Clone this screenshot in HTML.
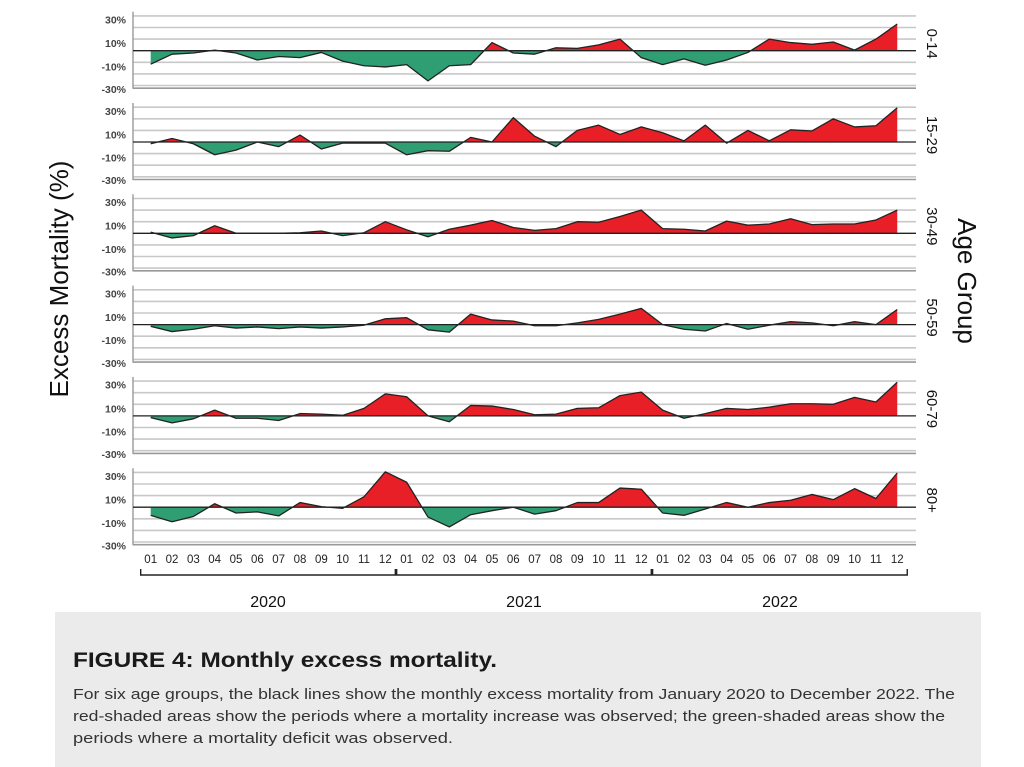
<!DOCTYPE html>
<html><head><meta charset="utf-8"><style>
html,body{margin:0;padding:0;background:#fff;}
svg{display:block;font-family:"Liberation Sans",sans-serif;}
</style></head><body>
<svg id="chart" width="1024" height="767" viewBox="0 0 1024 767" xmlns="http://www.w3.org/2000/svg">
<defs></defs>
<rect x="55" y="612" width="926" height="155" fill="#ebebeb"/>
<text x="73" y="667" font-size="21" font-weight="bold" fill="#1a1a1a" textLength="424" lengthAdjust="spacingAndGlyphs">FIGURE 4: Monthly excess mortality.</text>
<text x="73" y="699" font-size="14.5" fill="#333" textLength="882" lengthAdjust="spacingAndGlyphs">For six age groups, the black lines show the monthly excess mortality from January 2020 to December 2022. The</text>
<text x="73" y="721" font-size="14.5" fill="#333" textLength="872" lengthAdjust="spacingAndGlyphs">red-shaded areas show the periods where a mortality increase was observed; the green-shaded areas show the</text>
<text x="73" y="743" font-size="14.5" fill="#333" textLength="380" lengthAdjust="spacingAndGlyphs">periods where a mortality deficit was observed.</text>
<text transform="translate(68,279) rotate(-90)" text-anchor="middle" font-size="26" fill="#111">Excess Mortality (%)</text>
<text transform="translate(958,281) rotate(90)" text-anchor="middle" font-size="26" fill="#111">Age Group</text>
</svg>
<script>
const groups = ["0-14","15-29","30-49","50-59","60-79","80+"];
const months = ["01","02","03","04","05","06","07","08","09","10","11","12"];
const years = ["2020","2021","2022"];
const yTicks = ["30%","10%","-10%","-30%"];
const s0_14 = [-11.6,-3,-2,0.5,-2,-8,-5,-6,-1.5,-9,-13,-14,-12,-26,-13,-12,7,-2,-3,2.5,2,5,10,-6,-12,-7,-12.5,-8,-1.5,10,7,5.5,7.5,0.5,10,23];
const s15_29 = [-1.5,3,-1.5,-11,-7,0,-4,6,-6,-1,-1,-1,-11,-7.5,-8,4,0,21,5,-4,10,14.5,6.5,13,8,1,14.5,-1,10,1,10.5,9.5,20,13,14,29.5];
const s30_49 = [1,-4,-2,6.5,0,0,0,0.5,2,-2,0.5,10,3,-3,3.5,7,11,5,2.5,4,10,9.5,14.5,20,4,3.5,2,10.5,7,8,12.5,7.5,8,8,11.5,20];
const s50_59 = [-1.5,-6,-4,-1,-3,-2,-3.5,-2,-3,-2,-0.5,5,6,-4.5,-6.5,9,4,3,-1,-1,1.5,4.5,9,14,0,-4,-5.5,1,-4,-0.5,2.5,1.5,-1,2.5,0,13];
const s60_79 = [-1.5,-6,-2.5,5,-2,-2,-4,2,1.5,0.5,6.5,19,16.5,0,-5,9,8.5,5.5,1,1.5,6.5,7,17.5,20.5,5,-2,2,6.5,5.5,7.5,10.5,10.5,10,16,12,29];
const s80 = [-7,-12.5,-8,3,-5,-4,-7.5,4,0.5,-1,9,30.5,21.5,-8.5,-17,-6.5,-3,0,-6,-3,4,4,16.5,15.5,-5,-7,-1.5,4,0,4,6,11,6.5,16,7.5,29.5];
const series = [s0_14,s15_29,s30_49,s50_59,s60_79,s80];

const NS="http://www.w3.org/2000/svg";
const svg=document.getElementById('chart');
const defs=svg.querySelector('defs');
const X0=150.7, DX=21.33, ZERO0=50.7, PANEL=91.3, PX=1.16;
function xPos(i){return X0+DX*i;}
function yPos(p,v){return ZERO0+PANEL*p - v*PX;}
function mk(tag,attrs,parent){const e=document.createElementNS(NS,tag);for(const k in attrs)e.setAttribute(k,attrs[k]);(parent||svg).appendChild(e);return e;}

series.forEach((vals,p)=>{
  const z=ZERO0+PANEL*p;
  const g=mk('g',{});
  
  
  for(let k=-3;k<=3;k++){
    if(k===0)continue;
    const l=mk('line',{x1:133,x2:916,y1:z+k*11.6,y2:z+k*11.6,stroke:'#c8c8c8','stroke-width':1.6},g);
    
    
  }
  const base=mk('line',{x1:133,x2:916,y1:z+37.5,y2:z+37.5,stroke:'#999','stroke-width':1.6},g);
  
  
  const ax=mk('line',{x1:133,x2:133,y1:z-39,y2:z+38,stroke:'#999','stroke-width':1.4},g);
  
  
  const tOff=[-31.2,-7.6,15.6,38.2];
  yTicks.forEach((t,k)=>{
    const tx=mk('text',{x:126,y:tOff[k]+z+4,'text-anchor':'end','font-size':10.5,'font-weight':'bold',fill:'#444'},g);
    tx.textContent=t;
    
    
  });
  const cu=mk('clipPath',{id:'cu'+p},defs);mk('rect',{x:0,y:z-60,width:1024,height:60},cu);
  const cd=mk('clipPath',{id:'cd'+p},defs);mk('rect',{x:0,y:z,width:1024,height:60},cd);
  let d='M'+xPos(0)+','+z;
  vals.forEach((v,i)=>{d+=' L'+xPos(i).toFixed(2)+','+yPos(p,v).toFixed(2);});
  d+=' L'+xPos(vals.length-1)+','+z+' Z';
  const pos=mk('path',{d:d,fill:'#e81f27','clip-path':'url(#cu'+p+')'},g);
  
  
  const neg=mk('path',{d:d,fill:'#2f9e72','clip-path':'url(#cd'+p+')'},g);
  
  
  const zl=mk('line',{x1:133,x2:916,y1:z,y2:z,stroke:'#222','stroke-width':1.3},g);
  
  
  let ld='';
  vals.forEach((v,i)=>{ld+=(i?' L':'M')+xPos(i).toFixed(2)+','+yPos(p,v).toFixed(2);});
  const ln=mk('path',{d:ld,fill:'none',stroke:'#222','stroke-width':1.3,'stroke-linejoin':'round'},g);
  
  
  const gl=mk('text',{transform:'translate(927,'+(z-7)+') rotate(90)','text-anchor':'middle','font-size':15,fill:'#111'},g);
  gl.textContent=groups[p];
  
  
});
for(let i=0;i<36;i++){
  const t=mk('text',{x:xPos(i),y:563,'text-anchor':'middle','font-size':11.5,fill:'#222'});
  t.textContent=months[i%12];
  
  
}
years.forEach((y,k)=>{
  const xa=xPos(k*12)-10, xb=xPos(k*12+11)+10;
  const b=mk('path',{d:'M'+xa+',569 L'+xa+',575 L'+xb+',575 L'+xb+',569',fill:'none',stroke:'#222','stroke-width':1.4});
  
  
  const t=mk('text',{x:(xa+xb)/2,y:607,'text-anchor':'middle','font-size':16,fill:'#111'});
  t.textContent=y;
  
  
});
</script>
</body></html>
